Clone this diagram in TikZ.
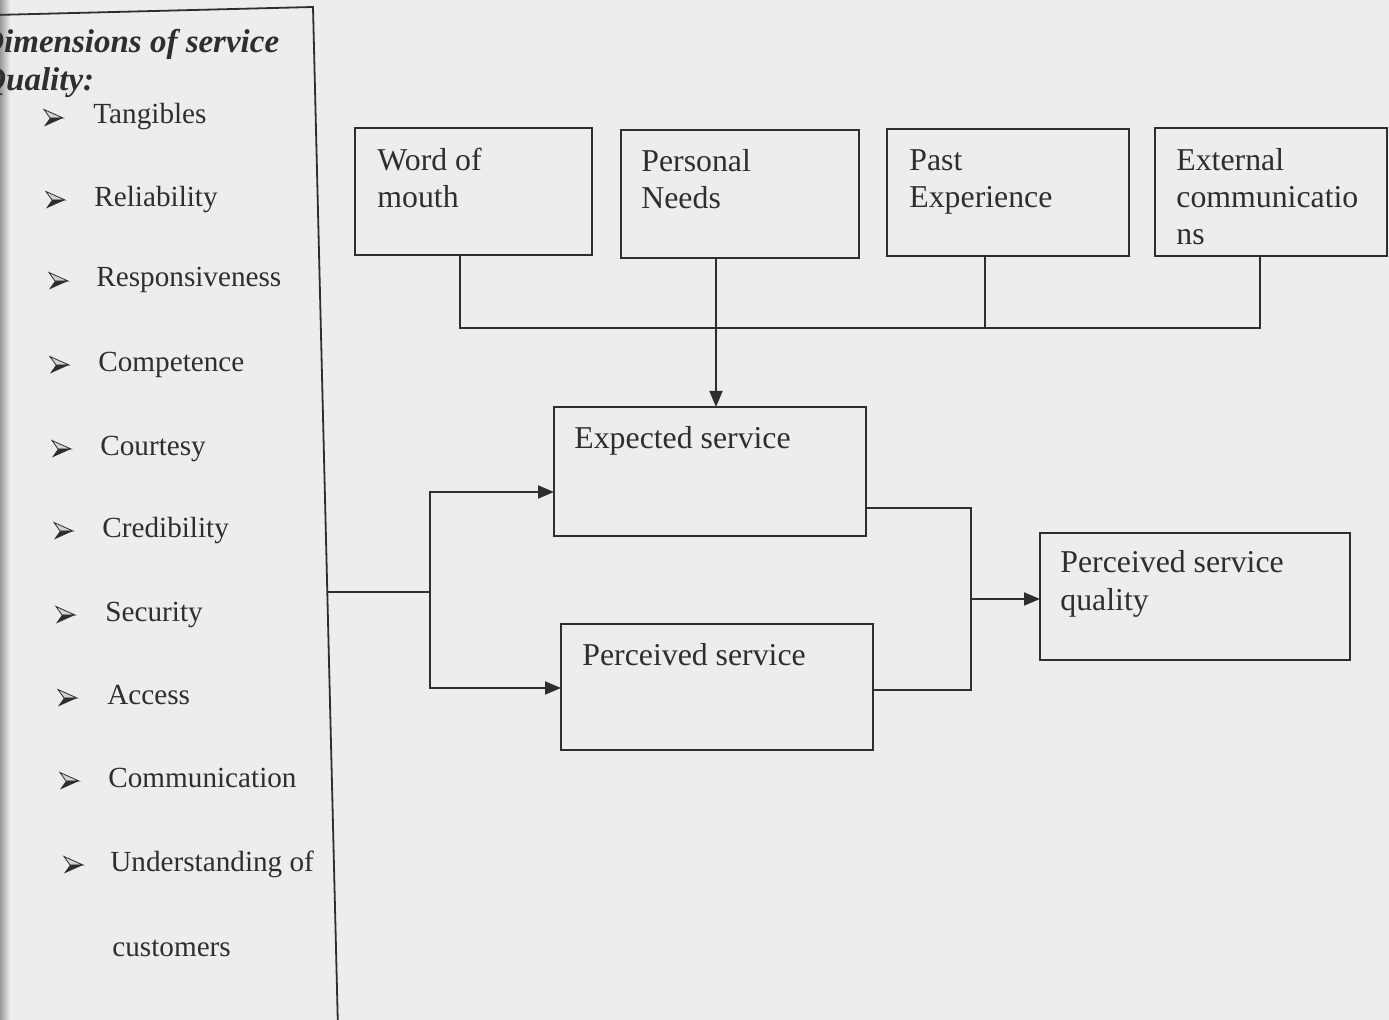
\documentclass[tikz,border=0pt]{standalone}
\usepackage{fontspec}
\setmainfont{Liberation Serif}
\usetikzlibrary{arrows.meta}
\definecolor{ink}{HTML}{2E2E2E}
\definecolor{paper}{HTML}{EDEDED}
\begin{document}
\begin{tikzpicture}[x=0.5pt,y=-0.5pt,
  box/.style={draw=ink, line width=0.9pt, inner sep=0pt, outer sep=0pt},
  lbl/.style={anchor=base west, inner sep=0pt, text=ink, font=\fontsize{15.9}{19}\selectfont},
  item/.style={anchor=base west, inner sep=0pt, text=ink, font=\fontsize{14.6}{17}\selectfont},
  ttl/.style={anchor=base west, inner sep=0pt, text=ink, font=\fontsize{16.5}{19}\selectfont\bfseries\itshape},
  wire/.style={draw=ink, line width=0.9pt},
  arr/.style={wire, -{Triangle[length=8pt,width=6.5pt]}},
  bul/.pic={
    \filldraw[fill=gray!35, draw=ink, line width=0.4pt] (0,-8.5) -- (19,0) -- (6,0) -- cycle;
    \fill[ink] (0,8.5) -- (19,0) -- (6,0) -- cycle;
  }
]
\useasboundingbox (0,0) rectangle (1389,1020);
\fill[paper] (0,0) rectangle (1389,1020);
\shade[left color=gray!80, right color=paper] (0,0) rectangle (10,1020);

% left panel
\draw[wire] (-5,15) -- (313,7) -- (338,1030);
\coordinate (pe) at (327.5,592);

\node[ttl] (t1) at (-20,53) {Dimensions of service};
\node[ttl] (t2) at (-18,91) {Quality:};

\pic at (44,118) {bul};
\node[item] (i1) at (93,124) {Tangibles};
\pic at (46,200) {bul};
\node[item] (i2) at (94,207) {Reliability};
\pic at (49,281) {bul};
\node[item] (i3) at (96,287) {Responsiveness};
\pic at (50,365) {bul};
\node[item] (i4) at (98,372) {Competence};
\pic at (52,449) {bul};
\node[item] (i5) at (100,456) {Courtesy};
\pic at (54,531) {bul};
\node[item] (i6) at (102,538) {Credibility};
\pic at (56,615) {bul};
\node[item] (i7) at (105,622) {Security};
\pic at (58,698) {bul};
\node[item] (i8) at (107,705) {Access};
\pic at (60,781) {bul};
\node[item] (i9) at (108,788) {Communication};
\pic at (64,865) {bul};
\node[item] (i10) at (110,872) {Understanding of};
\node[item] (i11) at (112,957) {customers};

% top boxes
\node[box, minimum width=118.5pt, minimum height=63.5pt] (wom) at (473.5,191.5) {};
\node[lbl] (wom1) at (377,171) {Word of};
\node[lbl] (wom2) at (377,208) {mouth};

\node[box, minimum width=119pt, minimum height=64pt] (pn) at (740,194) {};
\node[lbl] (pn1) at (641,172) {Personal};
\node[lbl] (pn2) at (641,209) {Needs};

\node[box, minimum width=121pt, minimum height=63.5pt] (past) at (1008,192.5) {};
\node[lbl] (past1) at (909,171) {Past};
\node[lbl] (past2) at (909,208) {Experience};

\node[box, minimum width=116pt, minimum height=64pt] (ext) at (1271,192) {};
\node[lbl] (ext1) at (1176,171) {External};
\node[lbl] (ext2) at (1176,208) {communicatio};
\node[lbl] (ext3) at (1176,245) {ns};

% middle boxes
\node[box, minimum width=156pt, minimum height=64.5pt] (exp) at (710,471.5) {};
\node[lbl] (exp1) at (574,449) {Expected service};

\node[box, minimum width=156pt, minimum height=63pt] (perc) at (717,687) {};
\node[lbl] (perc1) at (582,666) {Perceived service};

\node[box, minimum width=155pt, minimum height=63.5pt] (psq) at (1195,596.5) {};
\node[lbl] (psq1) at (1060,573) {Perceived service};
\node[lbl] (psq2) at (1060,611) {quality};

% bus
\coordinate (busL) at (460,328);
\coordinate (busP) at (985,328);
\coordinate (busR) at (1260,328);
\coordinate (xpn) at (716,300);
\draw[wire] (wom.south -| busL) -- (busL) -- (busR) -- (ext.south -| busR);
\draw[wire] (past.south -| busP) -- (busP);
\draw[arr] (pn.south -| xpn) -- (exp.north -| xpn);

% left split
\coordinate (lj) at (430,592);
\coordinate (lt) at (430,492);
\coordinate (lb) at (430,688);
\draw[wire] (pe) -- (lj);
\draw[arr] (lj) -- (lt) -- (exp.west |- lt);
\draw[arr] (lj) -- (lb) -- (perc.west |- lb);

% right merge
\coordinate (rt) at (971,508);
\coordinate (rb) at (971,690);
\coordinate (rm) at (971,599);
\draw[wire] (exp.east |- rt) -- (rt) -- (rb) -- (perc.east |- rb);
\draw[arr] (rm) -- (psq.west |- rm);
\end{tikzpicture}
\end{document}
